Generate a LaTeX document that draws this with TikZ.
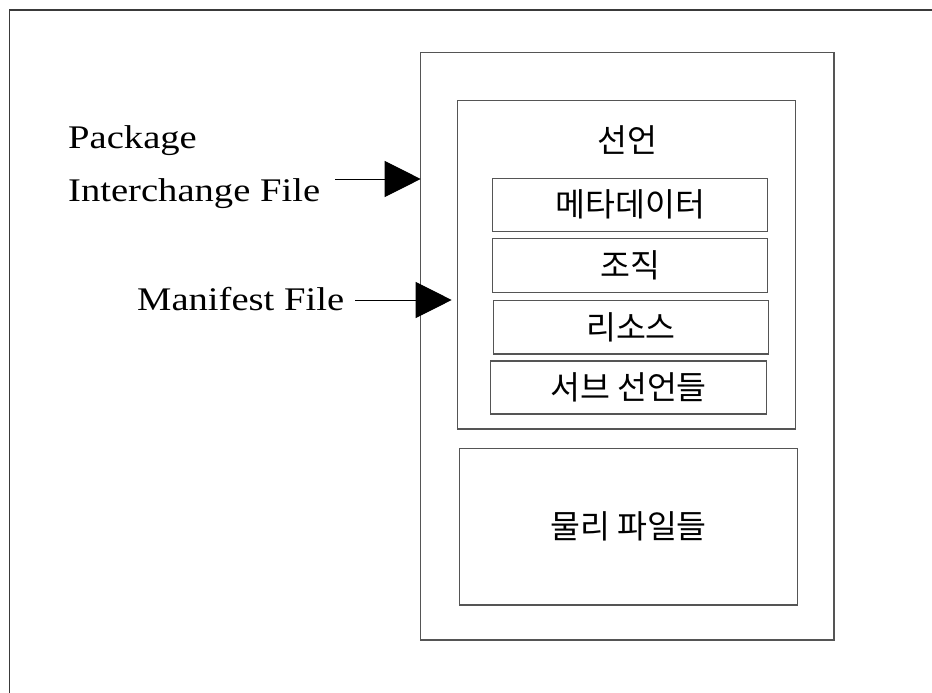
\documentclass[tikz,border=0pt]{standalone}
\usepackage{fontspec}
\newfontfamily\latfont[FakeStretch=1.17]{Liberation Serif}
\newfontfamily\krfont{Noto Sans CJK KR}
\usetikzlibrary{arrows.meta}
\definecolor{boxgray}{HTML}{555555}
\definecolor{framegray}{HTML}{3A3A3A}
\tikzset{
  box/.style={draw=boxgray, line width=1.1pt, inner sep=0pt, outer sep=0pt, font=\krfont\fontsize{32.5}{36}\selectfont},
  lbl/.style={inner sep=0pt, font=\latfont\fontsize{33}{38}\selectfont},
  krlbl/.style={inner sep=0pt, font=\krfont\fontsize{32.5}{36}\selectfont},
  arr/.style={line width=1pt, -{Triangle[length=36pt,width=36pt]}}
}
\begin{document}
\begin{tikzpicture}[x=1pt,y=-1pt]
\useasboundingbox (0,0) rectangle (932,693);
% page frame
\draw[framegray, line width=1.6pt] (9.5,693) -- (9.5,10.3) -- (932,10.3);
% boxes
\node[box, minimum width=413.3pt, minimum height=587.3pt] (outer) at (627.35,346.35) {};
\node[box, minimum width=338pt, minimum height=328.3pt] (decl) at (626.7,264.85) {};
\node[krlbl] (decllbl) at (627,140) {선언};
\node[box, minimum width=275pt, minimum height=53pt] (meta) at (630.2,204.8) {메타데이터};
\node[box, minimum width=275.4pt, minimum height=54pt] (org) at (630,265.3) {조직};
\node[box, minimum width=274.6pt, minimum height=53.7pt] (res) at (631,327.15) {리소스};
\node[box, minimum width=275.6pt, minimum height=53pt] (sub) at (628.5,387.5) {서브 선언들};
\node[box, minimum width=337.6pt, minimum height=156.7pt] (phys) at (628.5,526.65) {물리 파일들};
% labels
\node[lbl, anchor=base west] (pif1) at (68,148.3) {Package};
\node[lbl, anchor=base west] (pif2) at (68,201.7) {Interchange File};
\node[lbl, anchor=base west] (mf) at (137,310.7) {Manifest File};
% arrows
\coordinate (a1) at (335,179);
\coordinate (a2) at (355,300);
\draw[arr] (a1) -- (a1 -| outer.west);
\draw[arr, shorten >=6pt] (a2) -- (a2 -| decl.west);
\end{tikzpicture}
\end{document}
